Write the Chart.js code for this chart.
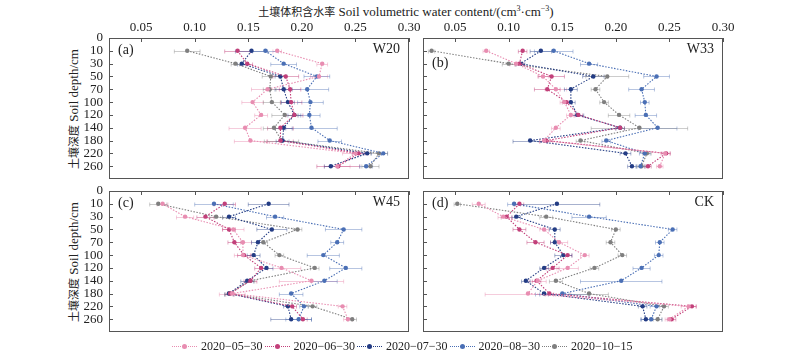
<!DOCTYPE html>
<html>
<head>
<meta charset="UTF-8">
<title>土壤体积含水率</title>
<script src="https://cdn.jsdelivr.net/npm/chart.js"></script>
<style>
  body { margin: 0; background: #fff; }
  #wrap { position: relative; width: 800px; height: 354px; overflow: hidden;
          font-family: 'Liberation Serif', 'Times New Roman', Times, serif; color: #222; }
  .panel { position: absolute; width: 440px; height: 182px; }
  .cjk { font-family: 'Noto Sans CJK SC', sans-serif; font-size: 11px; }
  #xtitle { position: absolute; top: 3px; left: 0; width: 812px; text-align: center; font-size: 13px; white-space: nowrap; }
  #xtitle sup { font-size: 8px; }
  .ytitle { position: absolute; left: 73px; font-size: 13px; white-space: nowrap;
            transform: translate(-50%, -50%) rotate(-90deg); }
  .lg { position: absolute; top: 339px; height: 16px; font-size: 12px; white-space: nowrap; }
  .lg .ln { position: absolute; left: 0; top: 7px; width: 25px; border-top: 1.2px dotted; }
  .lg .dt { position: absolute; left: 10px; top: 5px; width: 5px; height: 5px; border-radius: 50%; }
  .lg .tx { position: absolute; left: 29px; top: 0; }
</style>
</head>
<body>
<div id="wrap">
  <div id="xtitle"><span class="cjk">土壤体积含水率</span> Soil volumetric water content/(cm<sup>3</sup>·cm<sup>−3</sup>)</div>
  <div class="ytitle" style="top:109px"><span class="cjk">土壤深度</span> Soil depth/cm</div>
  <div class="ytitle" style="top:262px"><span class="cjk">土壤深度</span> Soil depth/cm</div>
  <div class="panel" style="left:0;top:0"><canvas id="pa" width="440" height="182"></canvas></div>
  <div class="panel" style="left:314px;top:0"><canvas id="pb" width="440" height="182"></canvas></div>
  <div class="panel" style="left:0;top:153px"><canvas id="pc" width="440" height="182"></canvas></div>
  <div class="panel" style="left:314px;top:153px"><canvas id="pd" width="440" height="182"></canvas></div>
</div>
<script>
// 深度（y 轴刻度）与 x 轴刻度
const depthTicks = ['0', '10', '30', '50', '70', '100', '120', '140', '180', '220', '260'];
const xTicks = [0.05, 0.10, 0.15, 0.20, 0.25, 0.30];
const seriesLabels = ['2020-05-30', '2020-06-30', '2020-07-30', '2020-08-30', '2020-10-15'];

// 每个样地：5 个日期 × 10 个深度（10…260 cm）
const w20 = [
  [0.177, 0.219, 0.216, 0.168, 0.154, 0.162, 0.147, 0.152, 0.250, 0.233],
  [0.140, 0.149, 0.185, 0.189, 0.190, 0.193, 0.180, 0.180, 0.253, 0.234],
  [0.153, 0.144, 0.180, 0.183, 0.187, 0.193, 0.183, 0.182, 0.261, 0.227],
  [0.166, 0.183, 0.214, 0.205, 0.208, 0.207, 0.209, 0.226, 0.276, 0.260],
  [0.093, 0.138, 0.171, 0.170, 0.172, 0.184, 0.174, 0.181, 0.272, 0.264]
];
const w20Err = [
  [0.004, 0.005, 0.008, 0.015, 0.010, 0.006, 0.015, 0.015, 0.012, 0.012],
  [0.012, 0.005, 0.012, 0.010, 0.010, 0.008, 0.012, 0.012, 0.006, 0.020],
  [0.015, 0.004, 0.005, 0.008, 0.006, 0.006, 0.008, 0.006, 0.004, 0.006],
  [0.012, 0.012, 0.012, 0.020, 0.012, 0.010, 0.024, 0.011, 0.004, 0.006],
  [0.012, 0.004, 0.008, 0.006, 0.008, 0.012, 0.010, 0.016, 0.008, 0.008]
];
const w33 = [
  [0.079, 0.107, 0.132, 0.144, 0.152, 0.158, 0.144, 0.133, 0.246, 0.241],
  [0.113, 0.110, 0.140, 0.136, 0.154, 0.165, 0.204, 0.135, 0.247, 0.230],
  [0.130, 0.111, 0.179, 0.158, 0.158, 0.164, 0.204, 0.120, 0.209, 0.215],
  [0.142, 0.175, 0.238, 0.224, 0.227, 0.228, 0.239, 0.191, 0.227, 0.223],
  [0.028, 0.100, 0.192, 0.181, 0.189, 0.203, 0.222, 0.167, 0.229, 0.224]
];
const w33Err = [
  [0.003, 0.006, 0.005, 0.010, 0.004, 0.004, 0.004, 0.004, 0.004, 0.003],
  [0.004, 0.004, 0.012, 0.012, 0.004, 0.004, 0.004, 0.006, 0.004, 0.003],
  [0.010, 0.004, 0.010, 0.006, 0.004, 0.006, 0.004, 0.016, 0.005, 0.004],
  [0.018, 0.008, 0.012, 0.012, 0.004, 0.010, 0.018, 0.004, 0.005, 0.004],
  [0.003, 0.006, 0.020, 0.004, 0.004, 0.010, 0.045, 0.004, 0.004, 0.004]
];
const w45 = [
  [0.070, 0.091, 0.136, 0.145, 0.145, 0.181, 0.209, 0.135, 0.238, 0.243],
  [0.128, 0.110, 0.132, 0.137, 0.146, 0.162, 0.152, 0.133, 0.191, 0.201],
  [0.169, 0.132, 0.172, 0.159, 0.155, 0.167, 0.149, 0.132, 0.187, 0.190],
  [0.118, 0.175, 0.239, 0.233, 0.220, 0.241, 0.221, 0.190, 0.202, 0.197],
  [0.066, 0.120, 0.196, 0.164, 0.179, 0.212, 0.152, 0.132, 0.210, 0.247]
];
const w45Err = [
  [0.005, 0.008, 0.010, 0.008, 0.008, 0.018, 0.030, 0.012, 0.004, 0.004],
  [0.010, 0.008, 0.006, 0.006, 0.006, 0.006, 0.006, 0.004, 0.004, 0.004],
  [0.019, 0.006, 0.014, 0.006, 0.006, 0.006, 0.006, 0.004, 0.004, 0.019],
  [0.018, 0.008, 0.017, 0.006, 0.015, 0.015, 0.012, 0.011, 0.004, 0.012],
  [0.008, 0.006, 0.004, 0.004, 0.004, 0.004, 0.004, 0.004, 0.004, 0.004]
];
const ck = [
  [0.072, 0.095, 0.133, 0.147, 0.171, 0.155, 0.127, 0.118, 0.268, 0.250],
  [0.110, 0.098, 0.110, 0.125, 0.155, 0.141, 0.126, 0.138, 0.271, 0.252],
  [0.145, 0.107, 0.143, 0.143, 0.151, 0.133, 0.116, 0.133, 0.225, 0.228],
  [0.105, 0.175, 0.253, 0.241, 0.240, 0.224, 0.205, 0.150, 0.238, 0.233],
  [0.052, 0.135, 0.200, 0.195, 0.206, 0.180, 0.144, 0.175, 0.245, 0.239]
];
const ckErr = [
  [0.006, 0.005, 0.004, 0.008, 0.004, 0.010, 0.008, 0.040, 0.007, 0.004],
  [0.004, 0.005, 0.006, 0.008, 0.004, 0.006, 0.004, 0.004, 0.004, 0.004],
  [0.040, 0.004, 0.005, 0.004, 0.008, 0.004, 0.004, 0.004, 0.004, 0.004],
  [0.006, 0.016, 0.004, 0.004, 0.004, 0.008, 0.038, 0.025, 0.006, 0.010],
  [0.003, 0.006, 0.004, 0.004, 0.004, 0.004, 0.006, 0.018, 0.004, 0.004]
];

const lineColors = ['#E88DB1', '#C2407A', '#233C84', '#4A6FB5', '#7F7F7F'];
const barColors = ['rgba(232,141,177,0.45)', 'rgba(194,64,122,0.45)', 'rgba(35,60,132,0.4)',
                   'rgba(74,111,181,0.4)', 'rgba(127,127,127,0.4)'];
const FONT = "'Liberation Serif', 'Times New Roman', Times, serif";

// 误差棒
const errorBars = {
  id: 'errorBars',
  beforeDatasetsDraw(chart) {
    const {ctx, chartArea: a, scales: {x, y}} = chart;
    ctx.save();
    ctx.beginPath();
    ctx.rect(a.left, a.top, a.width, a.height);
    ctx.clip();
    ctx.lineWidth = 1;
    chart.data.datasets.forEach((ds, s) => {
      ctx.strokeStyle = barColors[s];
      ds.data.forEach((p, i) => {
        const e = ds.errs[i];
        const x0 = x.getPixelForValue(p.x - e), x1 = x.getPixelForValue(p.x + e);
        const py = Math.round(y.getPixelForValue(p.y)) + 0.5;
        ctx.beginPath();
        ctx.moveTo(x0, py); ctx.lineTo(x1, py);
        ctx.moveTo(x0, py - 2); ctx.lineTo(x0, py + 2);
        ctx.moveTo(x1, py - 2); ctx.lineTo(x1, py + 2);
        ctx.stroke();
      });
    });
    ctx.restore();
  }
};

// 边框、内向刻度与面板标注
const frame = {
  id: 'frame',
  afterDraw(chart, args, opts) {
    const {ctx, chartArea: a, scales: {x, y}} = chart;
    ctx.save();
    ctx.strokeStyle = '#555';
    ctx.lineWidth = 1;
    ctx.strokeRect(a.left + 0.5, a.top + 0.5, a.width - 1, a.height - 1);
    ctx.beginPath();
    xTicks.forEach(v => {
      const px = Math.round(x.getPixelForValue(v)) + 0.5;
      ctx.moveTo(px, a.top); ctx.lineTo(px, a.top + 4);
    });
    for (let i = 1; i < depthTicks.length; i++) {
      const py = Math.round(y.getPixelForValue(i)) + 0.5;
      ctx.moveTo(a.left, py); ctx.lineTo(a.left + 4, py);
    }
    ctx.stroke();
    ctx.fillStyle = '#222';
    ctx.font = '14px ' + FONT;
    ctx.textBaseline = 'middle';
    ctx.textAlign = 'left';
    ctx.fillText(opts.left, a.left + 9, y.getPixelForValue(opts.leftRow));
    ctx.textAlign = 'right';
    ctx.fillText(opts.right, a.right - 9, y.getPixelForValue(1) - 1);
    ctx.restore();
  }
};

function makePanel(id, values, errs, tagLeft, tagRight, leftRow, showX, showY) {
  const datasets = seriesLabels.map((lab, s) => ({
    label: lab,
    data: values[s].map((v, i) => ({x: v, y: i + 1})),
    errs: errs[s],
    showLine: true,
    borderColor: lineColors[s],
    backgroundColor: lineColors[s],
    borderWidth: 1.1,
    borderDash: [1.5, 1.5],
    pointRadius: 2.2,
    pointBorderWidth: 0,
    pointHoverRadius: 3
  }));
  new Chart(document.getElementById(id), {
    type: 'scatter',
    data: {datasets: datasets},
    options: {
      responsive: false,
      animation: false,
      devicePixelRatio: 1,
      layout: {padding: {left: 0, top: 0, right: 31, bottom: 2}},
      plugins: {
        legend: {display: false},
        frame: {left: tagLeft, right: tagRight, leftRow: leftRow}
      },
      scales: {
        x: {
          type: 'linear', position: 'top', min: 0.02, max: 0.30,
          afterBuildTicks: s => { s.ticks = xTicks.map(v => ({value: v})); },
          afterFit: s => { s.height = 38; s.paddingLeft = 0; s.paddingRight = 0; },
          grid: {display: false, drawTicks: false},
          border: {display: false},
          ticks: {display: showX, autoSkip: false, maxRotation: 0, padding: 3, color: '#222',
                  font: {family: FONT, size: 13}, callback: v => v.toFixed(2)}
        },
        y: {
          type: 'linear', reverse: true, min: 0, max: 11,
          afterBuildTicks: s => { s.ticks = depthTicks.map((t, i) => ({value: i})); },
          afterFit: s => { s.width = 109; s.paddingTop = 0; s.paddingBottom = 0; },
          grid: {display: false, drawTicks: false},
          border: {display: false},
          ticks: {display: showY, autoSkip: false, padding: 6, color: '#222',
                  font: {family: FONT, size: 13}, callback: v => depthTicks[v]}
        }
      }
    },
    plugins: [errorBars, frame]
  });
}

makePanel('pa', w20, w20Err, '(a)', 'W20', 1, true, true);
makePanel('pb', w33, w33Err, '(b)', 'W33', 2, true, false);
makePanel('pc', w45, w45Err, '(c)', 'W45', 1, false, true);
makePanel('pd', ck, ckErr, '(d)', 'CK', 1, false, false);

// 图例
const wrap = document.getElementById('wrap');
seriesLabels.forEach((lab, s) => {
  const it = document.createElement('div');
  it.className = 'lg';
  it.style.left = (172 + s * 92.5) + 'px';
  it.innerHTML = '<span class="ln" style="border-color:' + lineColors[s] + '"></span>' +
    '<span class="dt" style="background:' + lineColors[s] + '"></span>' +
    '<span class="tx">' + lab.replace(/-/g, '\u2212') + '</span>';
  wrap.appendChild(it);
});
</script>
</body>
</html>
